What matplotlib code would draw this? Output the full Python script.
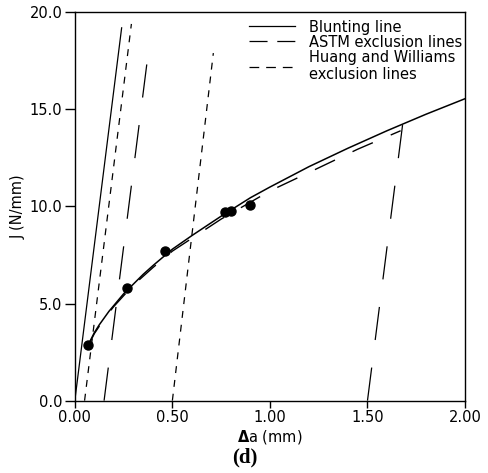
import matplotlib
matplotlib.use('Agg')
import matplotlib.pyplot as plt
from matplotlib.lines import Line2D

# fitted J-R curve
curve_da = [0.063, 0.08, 0.10, 0.125, 0.15, 0.175, 0.20, 0.25, 0.30, 0.35, 0.40, 0.50, 0.60,
            0.75, 0.90, 1.00, 1.20, 1.40, 1.60, 1.80, 2.00]
curve_j = [2.65, 3.1, 3.5, 3.9, 4.25, 4.6, 4.9, 5.5, 6.0, 6.5, 6.95, 7.8, 8.5,
           9.5, 10.45, 11.0, 12.05, 13.0, 13.9, 14.75, 15.55]

# second (long-dashed) fit, mostly hidden under the solid one
fit2_da = [0.07, 0.10, 0.15, 0.20, 0.30, 0.40, 0.50, 0.75, 1.00, 1.20, 1.45, 1.67]
fit2_j = [2.85, 3.45, 4.2, 4.85, 5.95, 6.85, 7.7, 9.35, 10.8, 11.75, 12.95, 13.9]

# measured points
pts_da = [0.07, 0.27, 0.46, 0.77, 0.80, 0.90]
pts_j = [2.85, 5.8, 7.7, 9.7, 9.75, 10.1]

# straight lines (start/end)
blunt_da = [0.0, 0.24]
blunt_j = [0.0, 19.2]
astm1_da = [0.15, 0.38]
astm1_j = [0.0, 18.2]
astm2_da = [1.50, 1.69]
astm2_j = [0.0, 15.0]
hw1_da = [0.05, 0.29]
hw1_j = [0.0, 19.4]
hw2_da = [0.50, 0.71]
hw2_j = [0.0, 17.9]

plt.rcParams['lines.scale_dashes'] = False
plt.rcParams['font.family'] = 'DejaVu Sans'

fig = plt.figure(figsize=(4.89, 4.73), dpi=100)
ax = fig.add_axes([0.153, 0.153, 0.798, 0.821])

long_dash = (0, (24, 20))
short_dash = (0, (5, 5))
lw = 0.9

ax.plot(blunt_da, blunt_j, color='black', lw=lw)
ax.plot(astm1_da, astm1_j, color='black', lw=lw, ls=long_dash)
ax.plot(astm2_da, astm2_j, color='black', lw=lw, ls=long_dash)
ax.plot(hw1_da, hw1_j, color='black', lw=lw, ls=short_dash)
ax.plot(hw2_da, hw2_j, color='black', lw=lw, ls=short_dash)

ax.plot(curve_da, curve_j, color='black', lw=1.1)
ax.plot(fit2_da, fit2_j, color='black', lw=1.0, ls=(0, (16, 14)))
ax.plot(pts_da, pts_j, 'o', color='black', ms=6.5)

ax.set_xlim(0, 2.0)
ax.set_ylim(0, 20.0)
ax.set_xticks([0, 0.5, 1.0, 1.5, 2.0])
ax.set_xticklabels(['0.00', '0.50', '1.00', '1.50', '2.00'])
ax.set_yticks([0, 5, 10, 15, 20])
ax.set_yticklabels(['0.0', '5.0', '10.0', '15.0', '20.0'])
ax.tick_params(direction='out', length=5, width=1, labelsize=10.5, pad=2)
ax.tick_params(axis='y', length=7, pad=2)
for s in ax.spines.values():
    s.set_linewidth(1.0)

ax.set_ylabel('J (N/mm)', fontsize=10.5, labelpad=3)
ax.set_xlabel(r'$\mathbf{\Delta}$a (mm)', fontsize=10.5, labelpad=2)
fig.text(0.5, 0.012, '(d)', ha='center', va='bottom', fontsize=15,
         family='Liberation Serif', weight='bold')

handles = [
    Line2D([], [], color='black', lw=lw),
    Line2D([], [], color='black', lw=lw, ls=(0, (13, 7))),
    Line2D([], [], color='black', lw=lw, ls=(0, (7, 5))),
]
labels = ['Blunting line', 'ASTM exclusion lines', 'Huang and Williams\nexclusion lines']
ax.legend(handles, labels, loc='upper right', frameon=False, fontsize=10.5,
          handlelength=3.15, handletextpad=1.0, labelspacing=0.0,
          borderpad=0.1, borderaxespad=0.0, bbox_to_anchor=(0.997, 0.985))

fig.savefig('out.png', dpi=100)
